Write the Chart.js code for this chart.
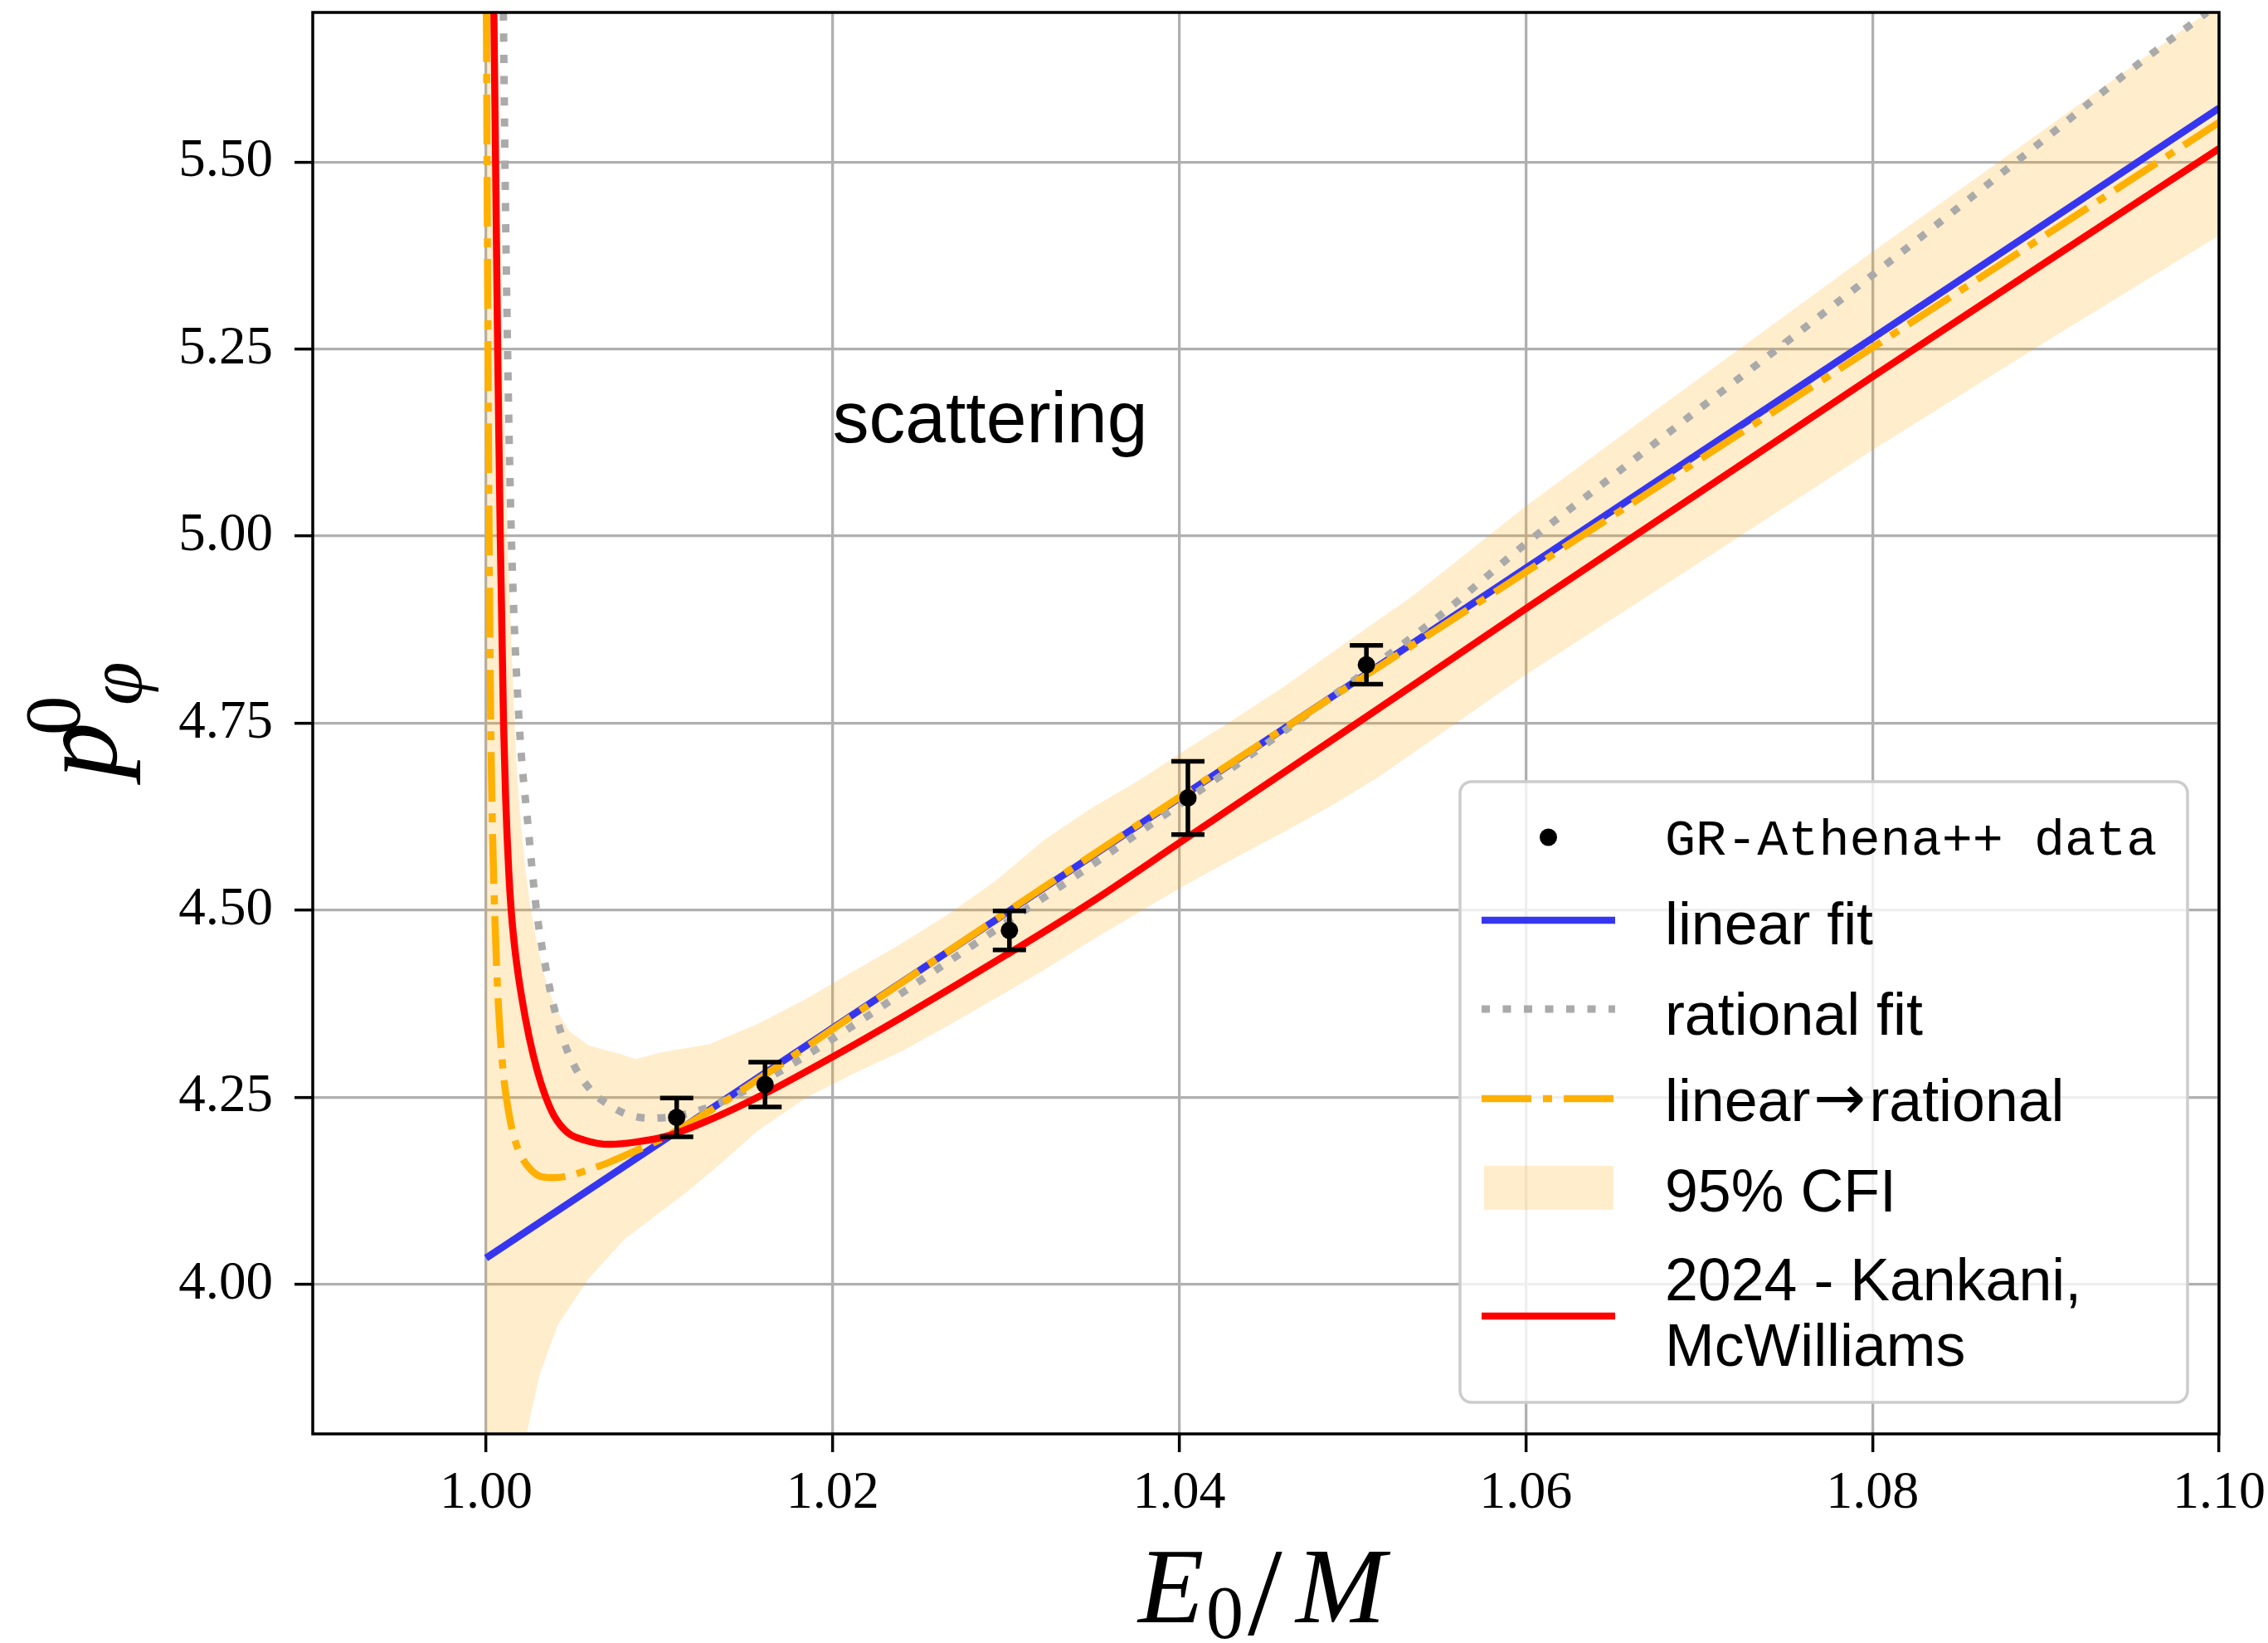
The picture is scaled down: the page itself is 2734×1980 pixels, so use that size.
<!DOCTYPE html>
<html>
<head>
<meta charset="utf-8">
<script src="https://cdn.jsdelivr.net/npm/chart.js@4.4.1/dist/chart.umd.min.js"></script>
<style>
html,body{margin:0;padding:0;background:#ffffff;}
canvas{display:block;}
</style>
</head>
<body>
<canvas id="c" width="2734" height="1980"></canvas>
<script>
// ---------- tick labels ----------
const xTicks = [1.00, 1.02, 1.04, 1.06, 1.08, 1.10];
const yTicks = [4.00, 4.25, 4.50, 4.75, 5.00, 5.25, 5.50];

// ---------- legend labels ----------
const seriesLabels = ['GR-Athena++ data', 'linear fit', 'rational fit', 'linear\u2192rational', '95% CFI', '2024 - Kankani,\nMcWilliams'];

// ---------- GR-Athena++ data points ----------
const dataE   = [1.0110, 1.0161, 1.0302, 1.0405, 1.0508];
const dataP   = [4.223, 4.267, 4.473, 4.650, 4.828];
const dataErr = [0.026, 0.030, 0.026, 0.049, 0.026];

// ---------- linear fit ----------
const linearE = [1.000, 1.100];
const linearP = [4.035, 5.572];

// ---------- rational fit ----------
const rationalE = [1.00100, 1.00109, 1.00124, 1.00146, 1.00190, 1.00243, 1.00291, 1.00339, 1.00403, 1.00482, 1.00610, 1.00722, 1.00816, 1.00945, 1.01100, 1.01300, 1.01600, 1.02000, 1.02500, 1.03000, 1.03500, 1.04000, 1.04500, 1.05000, 1.05500, 1.06000, 1.06500, 1.07000, 1.07500, 1.08000, 1.08500, 1.09000, 1.09500, 1.09930];
const rationalP = [5.700, 5.500, 5.250, 5.000, 4.755, 4.611, 4.500, 4.430, 4.360, 4.305, 4.258, 4.238, 4.227, 4.222, 4.225, 4.238, 4.272, 4.328, 4.405, 4.483, 4.561, 4.641, 4.722, 4.806, 4.893, 4.990, 5.080, 5.170, 5.259, 5.349, 5.440, 5.532, 5.625, 5.700];

// ---------- linear -> rational ----------
const linRatE = [1.00002, 1.00008, 1.00016, 1.00027, 1.00037, 1.00050, 1.00064, 1.00083, 1.00103, 1.00130, 1.00161, 1.00206, 1.00259, 1.00316, 1.00393, 1.00480, 1.00564, 1.00700, 1.00840, 1.01000, 1.01150, 1.01300, 1.01500, 1.02000, 1.03000, 1.04400, 1.06000, 1.08000, 1.10000];
const linRatP = [5.700, 5.384, 5.051, 4.750, 4.608, 4.497, 4.408, 4.330, 4.275, 4.231, 4.197, 4.170, 4.153, 4.144, 4.1425, 4.145, 4.151, 4.162, 4.176, 4.193, 4.212, 4.233, 4.263, 4.341, 4.497, 4.712, 4.952, 5.252, 5.553];

// ---------- 95% CFI band ----------
const cfiUpperE = [1.00000, 1.00068, 1.00078, 1.00095, 1.00123, 1.00160, 1.00171, 1.00192, 1.00227, 1.00259, 1.00307, 1.00347, 1.00403, 1.00482, 1.00594, 1.00770, 1.00865, 1.01009, 1.01290, 1.01567, 1.01843, 1.02118, 1.02394, 1.02669, 1.02945, 1.03220, 1.03496, 1.03771, 1.04047, 1.04322, 1.04598, 1.04873, 1.05149, 1.05336, 1.06000, 1.06770, 1.08000, 1.09000, 1.09930, 1.10000];
const cfiUpperP = [5.700, 5.700, 5.500, 5.250, 5.000, 4.774, 4.715, 4.640, 4.555, 4.500, 4.441, 4.404, 4.367, 4.338, 4.319, 4.308, 4.301, 4.310, 4.321, 4.348, 4.381, 4.418, 4.455, 4.495, 4.540, 4.594, 4.637, 4.674, 4.716, 4.756, 4.798, 4.843, 4.888, 4.918, 5.040, 5.172, 5.380, 5.545, 5.700, 5.712];
const cfiLowerE = [1.00000, 1.00234, 1.00309, 1.00415, 1.00585, 1.00798, 1.01160, 1.01347, 1.01567, 1.01843, 1.02118, 1.02394, 1.02669, 1.02945, 1.03220, 1.03496, 1.03771, 1.04047, 1.04322, 1.04598, 1.04873, 1.05149, 1.06000, 1.06770, 1.08000, 1.09000, 1.10000];
const cfiLowerP = [3.800, 3.800, 3.879, 3.946, 4.0055, 4.060, 4.1235, 4.160, 4.205, 4.249, 4.281, 4.311, 4.346, 4.383, 4.420, 4.460, 4.498, 4.535, 4.570, 4.604, 4.639, 4.678, 4.815, 4.930, 5.115, 5.260, 5.402];

// ---------- 2024 - Kankani, McWilliams ----------
const kankaniE = [1.00045, 1.00055, 1.00067, 1.00082, 1.00101, 1.00113, 1.00131, 1.00146, 1.00170, 1.00204, 1.00249, 1.00295, 1.00340, 1.00393, 1.00470, 1.00564, 1.00713, 1.00862, 1.01010, 1.01110, 1.01370, 1.01610, 1.02000, 1.02400, 1.03000, 1.03500, 1.04000, 1.04500, 1.05000, 1.06000, 1.07000, 1.08000, 1.09000, 1.10000];
const kankaniP = [5.700, 5.500, 5.250, 5.000, 4.750, 4.651, 4.552, 4.497, 4.441, 4.386, 4.330, 4.286, 4.253, 4.225, 4.203, 4.193, 4.187, 4.190, 4.196, 4.203, 4.228, 4.255, 4.304, 4.357, 4.440, 4.512, 4.590, 4.668, 4.746, 4.903, 5.058, 5.213, 5.366, 5.518];

// ---------- helpers ----------
const pts = (xs, ys) => xs.map((x, i) => ({x: x, y: ys[i]}));

const BLUE = '#3636f0';
const GRAY = '#aaaaaa';
const ORANGE = '#ffb000';
const RED = '#ff0000';
const BAND = 'rgba(255,165,0,0.2)';

function fitSize(ctx, text, fontTpl, target) {
  ctx.font = fontTpl.replace('SIZE', '100px');
  const w = ctx.measureText(text).width;
  return 100 * target / w;
}

// error bars on data points
const errorBarPlugin = {
  id: 'errorBars',
  afterDatasetsDraw(chart) {
    const {ctx, scales: {x, y}} = chart;
    ctx.save();
    ctx.strokeStyle = '#000';
    ctx.lineWidth = 5.5;
    ctx.lineCap = 'butt';
    dataE.forEach((e, i) => {
      const px = x.getPixelForValue(e);
      const top = y.getPixelForValue(dataP[i] + dataErr[i]);
      const bot = y.getPixelForValue(dataP[i] - dataErr[i]);
      ctx.beginPath();
      ctx.moveTo(px, top); ctx.lineTo(px, bot);
      ctx.moveTo(px - 20, top); ctx.lineTo(px + 20, top);
      ctx.moveTo(px - 20, bot); ctx.lineTo(px + 20, bot);
      ctx.stroke();
    });
    ctx.restore();
  }
};

// frame, axis titles, annotation, legend
const decorPlugin = {
  id: 'decor',
  afterDraw(chart) {
    const ctx = chart.ctx;
    const a = chart.chartArea;
    const ds = chart.data.datasets;
    ctx.save();
    // frame (spines)
    ctx.strokeStyle = '#000';
    ctx.lineWidth = 3.5;
    ctx.strokeRect(a.left, a.top, a.right - a.left, a.bottom - a.top);

    ctx.fillStyle = '#000';
    ctx.textAlign = 'left';
    ctx.textBaseline = 'alphabetic';

    // annotation "scattering"
    const sx = chart.scales.x.getPixelForValue(1.02);
    const sy = chart.scales.y.getPixelForValue(5.126);
    const sSize = fitSize(ctx, 'scattering', 'SIZE "Liberation Sans"', 380);
    ctx.font = sSize.toFixed(1) + 'px "Liberation Sans"';
    ctx.fillText('scattering', sx, sy);

    // x-axis title  E_0 / M
    ctx.font = 'italic 130px "Liberation Serif"';
    ctx.fillText('E', 1372, 1955);
    ctx.font = '90px "Liberation Serif"';
    ctx.fillText('0', 1454, 1974);
    ctx.font = '150px "Liberation Serif"';
    ctx.fillText('/', 1504, 1970);
    ctx.font = 'italic 130px "Liberation Serif"';
    ctx.fillText('M', 1562, 1955);

    // y-axis title p^0_phi (rotated)
    ctx.save();
    ctx.translate(140, 938);
    ctx.rotate(-Math.PI / 2);
    ctx.font = 'italic 135px "Liberation Serif"';
    ctx.fillText('p', 0, 0);
    ctx.font = '95px "Liberation Serif"';
    ctx.fillText('0', 52, -44);
    ctx.font = 'italic 95px "Liberation Serif"';
    ctx.fillText('\u03C6', 88, 31);
    ctx.restore();

    // legend
    const bx = 1760, by = 942, bw = 877, bh = 748, r = 14;
    ctx.beginPath();
    ctx.moveTo(bx + r, by);
    ctx.lineTo(bx + bw - r, by);
    ctx.arcTo(bx + bw, by, bx + bw, by + r, r);
    ctx.lineTo(bx + bw, by + bh - r);
    ctx.arcTo(bx + bw, by + bh, bx + bw - r, by + bh, r);
    ctx.lineTo(bx + r, by + bh);
    ctx.arcTo(bx, by + bh, bx, by + bh - r, r);
    ctx.lineTo(bx, by + r);
    ctx.arcTo(bx, by, bx + r, by, r);
    ctx.closePath();
    ctx.fillStyle = 'rgba(255,255,255,0.8)';
    ctx.fill();
    ctx.strokeStyle = '#cccccc';
    ctx.lineWidth = 3.5;
    ctx.stroke();

    const hx0 = 1786, hx1 = 1947, tx = 2007;
    const sansSize = fitSize(ctx, 'linear fit', 'SIZE "Liberation Sans"', 251);
    const sansFont = sansSize.toFixed(1) + 'px "Liberation Sans"';
    const monoSize = fitSize(ctx, seriesLabels[0], 'SIZE "Liberation Mono"', 593);
    const monoFont = monoSize.toFixed(1) + 'px "Liberation Mono"';

    function handleLine(d, yy) {
      ctx.save();
      ctx.strokeStyle = d.borderColor;
      ctx.lineWidth = d.borderWidth;
      ctx.lineCap = 'butt';
      ctx.setLineDash(d.borderDash || []);
      ctx.beginPath();
      ctx.moveTo(hx0, yy); ctx.lineTo(hx1, yy);
      ctx.stroke();
      ctx.restore();
    }
    // data marker
    ctx.beginPath();
    ctx.arc((hx0 + hx1) / 2, 1009, ds[0].pointRadius, 0, Math.PI * 2);
    ctx.fillStyle = ds[0].backgroundColor;
    ctx.fill();
    ctx.fillStyle = '#000';
    ctx.font = monoFont;
    ctx.fillText(ds[0].label, tx, 1030);

    handleLine(ds[1], 1109);
    ctx.font = sansFont;
    ctx.fillText(ds[1].label, tx, 1138);

    handleLine(ds[2], 1216);
    ctx.fillText(ds[2].label, tx, 1247);

    handleLine(ds[3], 1324);
    // "linear→rational" with a full-size math arrow
    const parts = ds[3].label.split('\u2192');
    ctx.font = sansFont;
    ctx.fillText(parts[0], tx, 1351);
    let cx = tx + ctx.measureText(parts[0]).width + 4;
    ctx.font = (sansSize * 1.05).toFixed(1) + 'px "DejaVu Sans"';
    ctx.fillText('\u2192', cx, 1349);
    cx += ctx.measureText('\u2192').width + 4;
    ctx.font = sansFont;
    ctx.fillText(parts[1], cx, 1351);

    ctx.fillStyle = ds[4].backgroundColor;
    ctx.fillRect(1789, 1405, 156, 53);
    ctx.fillStyle = '#000';
    ctx.fillText(ds[4].label, tx, 1460);

    handleLine(ds[6], 1586);
    const redLines = ds[6].label.split('\n');
    ctx.fillText(redLines[0], tx, 1567);
    ctx.fillText(redLines[1], tx, 1646);

    ctx.restore();
  }
};

const ctx = document.getElementById('c').getContext('2d');
new Chart(ctx, {
  type: 'scatter',
  data: {
    datasets: [
      { label: seriesLabels[0], data: pts(dataE, dataP), showLine: false,
        pointRadius: 10.5, pointHoverRadius: 10.5, backgroundColor: '#000000', borderColor: '#000000', borderWidth: 0, order: 0, clip: 0 },
      { label: seriesLabels[1], data: pts(linearE, linearP), showLine: true, pointRadius: 0,
        borderColor: BLUE, borderWidth: 8.5, fill: false, order: 4, clip: 0, borderJoinStyle: 'round' },
      { label: seriesLabels[2], data: pts(rationalE, rationalP), showLine: true, pointRadius: 0,
        borderColor: GRAY, borderWidth: 9, borderDash: [10, 15.5], fill: false, order: 3, clip: 0,
        cubicInterpolationMode: 'monotone' },
      { label: seriesLabels[3], data: pts(linRatE, linRatP), showLine: true, pointRadius: 0,
        borderColor: ORANGE, borderWidth: 8.5, borderDash: [60, 14, 11, 14], fill: false, order: 2, clip: 0,
        cubicInterpolationMode: 'monotone' },
      { label: seriesLabels[4], data: pts(cfiUpperE, cfiUpperP), showLine: true, pointRadius: 0,
        borderWidth: 0, borderColor: 'rgba(0,0,0,0)', backgroundColor: BAND, fill: '+1', order: 5, clip: 0 },
      { label: 'CFI lower', data: pts(cfiLowerE, cfiLowerP), showLine: true, pointRadius: 0,
        borderWidth: 0, borderColor: 'rgba(0,0,0,0)', backgroundColor: BAND, fill: false, order: 5, clip: 0 },
      { label: seriesLabels[5], data: pts(kankaniE, kankaniP), showLine: true, pointRadius: 0,
        borderColor: RED, borderWidth: 8.5, fill: false, order: 1, clip: 0,
        cubicInterpolationMode: 'monotone', borderJoinStyle: 'round' }
    ]
  },
  options: {
    responsive: false,
    animation: false,
    devicePixelRatio: 1,
    events: [],
    layout: { padding: { left: 0, right: 59, top: 15, bottom: 0 } },
    plugins: { legend: { display: false }, tooltip: { enabled: false } },
    scales: {
      x: {
        type: 'linear', min: 0.99, max: 1.10,
        afterBuildTicks: s => { s.ticks = xTicks.map(v => ({ value: v })); },
        afterFit: s => { s.height = 252; s.paddingLeft = 0; s.paddingRight = 0; },
        ticks: { callback: v => Number(v).toFixed(2), color: '#000', padding: 12, maxRotation: 0, autoSkip: false,
                 font: { family: 'Liberation Serif', size: 64 } },
        grid: { color: '#b0b0b0', lineWidth: 3.3, tickColor: '#000', tickWidth: 3.5, tickLength: 22, drawTicks: true },
        border: { display: false }
      },
      y: {
        type: 'linear', min: 3.80, max: 5.70,
        afterBuildTicks: s => { s.ticks = yTicks.map(v => ({ value: v })); },
        afterFit: s => { s.width = 377; s.paddingTop = 0; s.paddingBottom = 0; },
        ticks: { callback: v => Number(v).toFixed(2), color: '#000', padding: 26, autoSkip: false,
                 font: { family: 'Liberation Serif', size: 65 } },
        grid: { color: '#b0b0b0', lineWidth: 3.3, tickColor: '#000', tickWidth: 3.5, tickLength: 22, drawTicks: true },
        border: { display: false }
      }
    }
  },
  plugins: [errorBarPlugin, decorPlugin]
});
</script>
</body>
</html>
